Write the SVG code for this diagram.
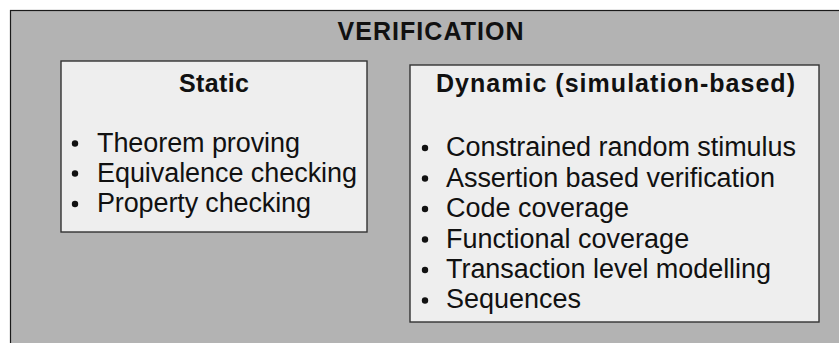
<svg xmlns="http://www.w3.org/2000/svg" width="839" height="343" viewBox="0 0 839 343">
  <style>
    .frame { fill: #b3b3b3; stroke: #1a1a1a; stroke-width: 1.2; }
    .panel { fill: #eeeeee; stroke: #333333; stroke-width: 1.4; }
    .head { font-family: "Liberation Sans", Arial, sans-serif; font-weight: bold; font-size: 25px; fill: #111111; text-anchor: middle; }
    .item { font-family: "Liberation Sans", Arial, sans-serif; font-size: 27px; fill: #111111; }
    .dot { fill: #111111; }
  </style>

  <!-- outer verification frame, runs off the right and bottom edges -->
  <g id="verification">
    <rect class="frame" x="10.5" y="10.5" width="840" height="345"/>
    <text class="head" x="430.5" y="39.5" textLength="186" lengthAdjust="spacing">VERIFICATION</text>
  </g>

  <!-- static techniques -->
  <g id="static">
    <rect class="panel" x="61" y="61" width="306" height="171"/>
    <text class="head" x="214" y="91.5" textLength="70" lengthAdjust="spacing">Static</text>
    <circle class="dot" cx="75" cy="143.5" r="3.2"/>
    <circle class="dot" cx="75" cy="173.5" r="3.2"/>
    <circle class="dot" cx="75" cy="204" r="3.2"/>
    <text class="item" x="97" y="151.5" textLength="203" lengthAdjust="spacing">Theorem proving</text>
    <text class="item" x="97" y="181.5" textLength="260" lengthAdjust="spacing">Equivalence checking</text>
    <text class="item" x="97" y="212" textLength="214" lengthAdjust="spacing">Property checking</text>
  </g>

  <!-- dynamic, simulation-based techniques -->
  <g id="dynamic">
    <rect class="panel" x="410" y="65" width="409" height="257"/>
    <text class="head" x="615.5" y="91.5" textLength="359" lengthAdjust="spacing">Dynamic (simulation-based)</text>
    <circle class="dot" cx="425" cy="148" r="3.2"/>
    <circle class="dot" cx="425" cy="178.5" r="3.2"/>
    <circle class="dot" cx="425" cy="209" r="3.2"/>
    <circle class="dot" cx="425" cy="239.5" r="3.2"/>
    <circle class="dot" cx="425" cy="270" r="3.2"/>
    <circle class="dot" cx="425" cy="300.5" r="3.2"/>
    <text class="item" x="446" y="156" textLength="350" lengthAdjust="spacing">Constrained random stimulus</text>
    <text class="item" x="446" y="186.5" textLength="329" lengthAdjust="spacing">Assertion based verification</text>
    <text class="item" x="446" y="217">Code coverage</text>
    <text class="item" x="446" y="247.5">Functional coverage</text>
    <text class="item" x="446" y="278" textLength="325" lengthAdjust="spacing">Transaction level modelling</text>
    <text class="item" x="446" y="308">Sequences</text>
  </g>
</svg>
